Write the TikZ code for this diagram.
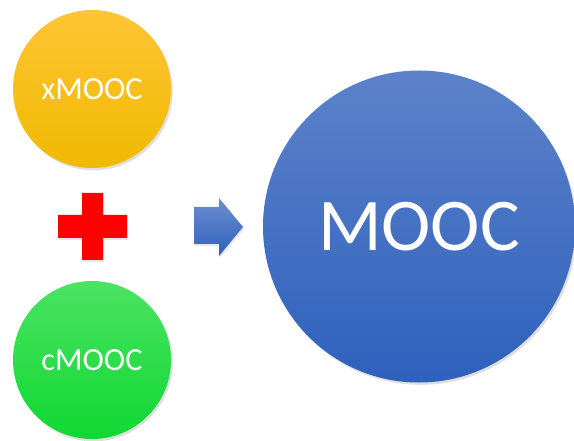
\documentclass[tikz,border=0pt]{standalone}
\usepackage{fontspec}
\setmainfont{Carlito}
\usepackage{xcolor}
\usepackage{tikz}
\usetikzlibrary{shadows}
\definecolor{mcYellowTop}{HTML}{FFC535}
\definecolor{mcYellowBot}{HTML}{F0B900}
\definecolor{mcGreenTop}{HTML}{4BE362}
\definecolor{mcGreenBot}{HTML}{0FD832}
\definecolor{mcBlueTop}{HTML}{5D82CA}
\definecolor{mcBlueBot}{HTML}{2E61BD}
\definecolor{mcRed}{HTML}{FF0000}
\tikzset{
  % small circle (course type)
  ball/.style={circle,minimum size=4.74cm,inner sep=0pt,
    text=white,font=\fontsize{27.5}{30}\selectfont,
    drop shadow={shadow xshift=1.5pt,shadow yshift=-2pt,opacity=0.25}},
  % big result circle
  bigball/.style={ball,minimum size=9.36cm,
    font=\fontsize{63.5}{70}\selectfont},
  % plus sign and arrow
  sym/.style={drop shadow={shadow xshift=1pt,shadow yshift=-1.5pt,opacity=0.2}},
}
\begin{document}
\begin{tikzpicture}[x=0.03cm,y=0.03cm]
  \useasboundingbox (0,0) rectangle (574,441);

  % left column
  \node[ball,top color=mcYellowTop,bottom color=mcYellowBot] (xmooc) at (92,352) {xMOOC};
  \node[ball,top color=mcGreenTop,bottom color=mcGreenBot] (cmooc) at (92,81) {cMOOC};

  % plus between them
  \fill[mcRed,sym] (82,181) -- (103,181) -- (103,203) -- (127,203) -- (127,226)
    -- (103,226) -- (103,248) -- (82,248) -- (82,226) -- (58,226) -- (58,203)
    -- (82,203) -- cycle;

  % arrow to the result
  \shade[top color=mcBlueTop!90,bottom color=mcBlueBot,sym] (194,197) -- (219,197)
    -- (219,185) -- (243,214) -- (219,243) -- (219,234) -- (194,234) -- cycle;

  % result
  \node[bigball,top color=mcBlueTop,bottom color=mcBlueBot] (mooc) at (419,214.5) {MOOC};
\end{tikzpicture}
\end{document}
